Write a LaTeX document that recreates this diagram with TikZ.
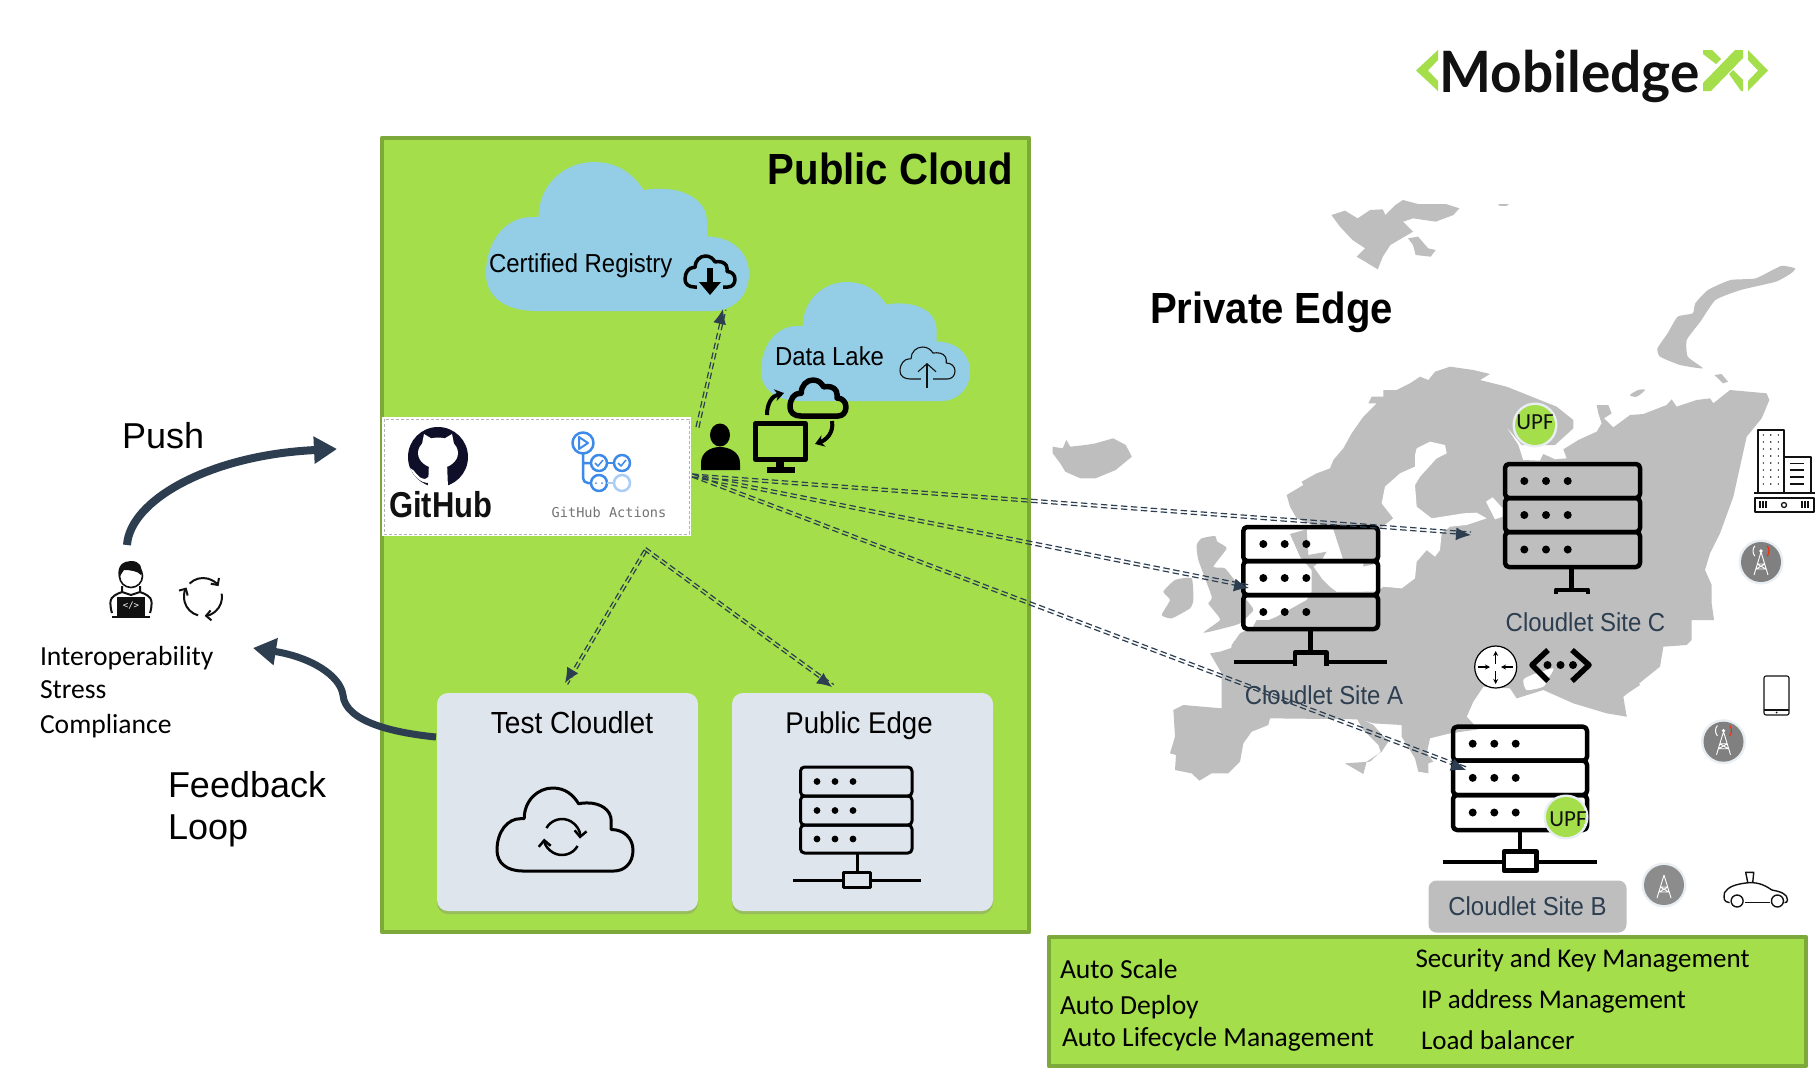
\documentclass[tikz,border=0pt]{standalone}
\usepackage{fontspec}
\setmainfont{Liberation Sans}
\newfontfamily\carl{Carlito}
\newfontfamily\logof[FakeStretch=.965]{Lato}
\newfontfamily\monof{DejaVu Sans Mono}
\newfontfamily\ghf[FakeStretch=.86]{Liberation Sans}
\newfontfamily\cf[FakeStretch=.92]{Liberation Sans}
\usetikzlibrary{arrows.meta,shadows,calc}
\definecolor{gr}{HTML}{A4DE4B}
\definecolor{grb}{HTML}{7DA83A}
\definecolor{navy}{HTML}{2C3E50}
\definecolor{lblue}{HTML}{94CEE6}
\definecolor{card}{HTML}{DEE5EC}
\definecolor{land}{HTML}{BEBEBE}
\definecolor{ink}{HTML}{111111}
\definecolor{gblue}{HTML}{3E8AE8}
\definecolor{gblue2}{HTML}{A9CDF5}
\definecolor{ring}{HTML}{E9EEF3}
\newcommand\fsz[1]{\fontsize{#1}{#1}\selectfont}
\newcommand\cloudP{(.19,1) .. controls (.07,1) and (0,.9) .. (0,.75) .. controls (0,.52) and (.08,.37) .. (.17,.37) -- (.2,.37) .. controls (.2,.15) and (.3,0) .. (.41,0) .. controls (.5,0) and (.56,.08) .. (.6,.19) .. controls (.62,.18) and (.64,.18) .. (.665,.18) .. controls (.76,.18) and (.84,.26) .. (.84,.4) -- (.84,.5) .. controls (.93,.5) and (1,.6) .. (1,.75) .. controls (1,.9) and (.94,1) .. (.86,1) -- cycle}
% x1 x2 y1 d1 d2 y2 dot1 dot2 dot3
\newcommand\rackicon[9]{%
 \draw[rounded corners=4pt] (#1,#3) rectangle (#2,#4);
 \draw[rounded corners=4pt] (#1,#4) rectangle (#2,#5);
 \draw[rounded corners=4pt] (#1,#5) rectangle (#2,#6);
 \foreach \dx in {#7,#8,#9}{
  \fill ($(\dx,#3)!.5!(\dx,#4)$) circle (\dotr);
  \fill ($(\dx,#4)!.5!(\dx,#5)$) circle (\dotr);
  \fill ($(\dx,#5)!.5!(\dx,#6)$) circle (\dotr);}}
\newcommand\dotr{4pt}
\newcommand\arcarrow[6][]{\draw[#1] ([shift={(#5:#4pt)}]#2,#3) arc (#5:#6:#4pt);}
\newcommand\towericon[4]{%
 \fill[ring] (#1,#2) circle (22.5pt);
 \fill[#3] (#1,#2) circle (20pt);
 \draw[white,line width=.9pt] (#1,#2-10) -- (#1-7,#2+13) (#1,#2-10) -- (#1+7,#2+13) (#1-4,#2+2) -- (#1+4,#2+2) (#1-5,#2+7) -- (#1+5,#2+7) (#1-4,#2+2) -- (#1+5,#2+7) (#1+4,#2+2) -- (#1-5,#2+7);
 \ifx#4r
 \fill[white] (#1,#2-11) circle (1.8pt);
 \draw[red!70!orange,line width=1pt] ([shift={(-40:8pt)}]#1,#2-11) arc (-40:40:8pt);
 \draw[white,line width=1pt] ([shift={(140:8pt)}]#1,#2-11) arc (140:220:8pt);
 \fi}
\tikzset{
 txt/.style={inner sep=0pt,outer sep=0pt},
 ddash/.style 2 args={draw=navy,line width=1.2pt,dash pattern=on 6.5pt off 3.5pt,-{Latex[length=15pt,width=13pt]},
   postaction={draw=navy,-,line width=1.2pt,dash pattern=on 6.5pt off 3.5pt,transform canvas={xshift=#1,yshift=#2}}},
 zE/.style={shift={(1130,370)},x=.33333pt,y=-.33333pt},
 zN/.style={shift={(1480,390)},x=.33333pt,y=-.33333pt},
 zS/.style={shift={(1140,630)},x=.33333pt,y=-.33333pt},
 zW/.style={shift={(1030,190)},x=.504pt,y=-.33333pt},
 thick arrow/.style={draw=navy,line width=8pt,-{Triangle[length=23pt,width=26pt]}},
 panel/.style={fill=gr,draw=grb,line width=4.5pt},
 cardbox/.style={fill=card,rounded corners=11pt,drop shadow={shadow xshift=0pt,shadow yshift=-3pt,opacity=.35}},
}
\begin{document}
\begin{tikzpicture}[x=1pt,y=-1pt,line join=round]
\useasboundingbox (0,0) rectangle (1820,1072);
\fill[white] (0,0) rectangle (1820,1072);
%---------- map
\begin{scope}[zW]
\fill[land] plot coordinates {(598,75) (625,62) (650,85) (675,60) (700,58) (705,75) (725,45) (740,30) (770,42) (825,42) (852,55) (840,75) (805,95) (760,85) (740,95) (760,125) (715,165) (700,200) (690,238) (665,215) (648,200) (665,175) (640,150) (615,110)} -- cycle;
\fill[land] plot coordinates {(750,145) (770,140) (790,175) (805,180) (795,200) (765,195) (760,165)} -- cycle;
\fill[land] plot coordinates {(930,42) (950,42) (945,48) (930,47)} -- cycle;
\fill[land] plot[smooth cycle,tension=.3] coordinates {(1490,228) (1440,265) (1390,270) (1345,300) (1320,340) (1315,370) (1285,380) (1265,430) (1245,475) (1250,500) (1290,525) (1335,535) (1305,500) (1303,450) (1330,395) (1360,330) (1410,300) (1480,275) (1510,250) (1518,235)};
\fill[land] plot coordinates {(1358,555) (1372,552) (1385,575) (1375,580)} -- cycle;
\fill[land] plot coordinates {(45,770) (65,775) (72,750) (80,770) (110,765) (130,760) (165,745) (190,765) (202,800) (170,840) (130,865) (100,865) (70,845) (60,820) (45,790)} -- cycle;
\end{scope}
\begin{scope}[zE]
\fill[land] plot coordinates {(470,375) (520,345) (515,335) (560,310) (600,295) (610,270) (640,235) (665,190) (700,140) (740,100) (715,100) (725,80) (760,80) (760,60) (800,60) (840,40) (870,20) (895,30) (915,5) (960,-10) (1030,0) (1080,12) (1050,30) (1130,50) (1180,70) (1280,110) (1330,150) (1330,175) (1275,225) (1175,225) (1125,165) (1165,225) (1180,272) (1200,800) (700,800) (700,570) (640,570) (610,478) (560,470) (500,445) (480,410)} -- cycle;
\fill[land] plot coordinates {(480,492) (530,478) (535,555) (590,545) (575,570) (550,590) (575,625) (600,650) (620,665) (740,665) (900,650) (900,860) (300,860) (305,825) (330,790) (370,770) (440,740) (530,690) (545,665) (545,600) (510,560)} -- cycle;
\fill[land] plot[smooth cycle,tension=.3] coordinates {(200,525) (215,505) (255,498) (262,515) (290,535) (250,590) (285,595) (320,640) (350,690) (370,720) (330,760) (280,775) (220,788) (270,750) (250,720) (235,700) (245,680) (205,570)};
\fill[land] plot[smooth cycle,tension=.3] coordinates {(100,665) (135,630) (185,625) (190,690) (180,715) (125,745) (95,735) (120,690)};
\end{scope}
\begin{scope}[zN]
\fill[land] plot coordinates {(350,45) (385,45) (395,70) (372,85) (400,112) (450,75) (490,72) (560,45) (575,28) (590,50) (650,30) (690,25) (700,40) (750,0) (860,10) (868,30) (845,85) (800,140) (780,230) (760,320) (720,430) (690,490) (675,540) (695,585) (695,640) (702,690) (635,690) (635,750) (620,765) (550,770) (540,830) (490,870) (430,920) (440,980) (370,940) (300,920) (200,900) (100,600) (0,600) (0,230) (130,210) (180,212) (190,192) (225,208) (260,205) (250,178) (295,150) (350,125) (365,100) (355,70)} -- cycle;
\fill[land] plot[smooth cycle,tension=.5] coordinates {(450,15) (475,0) (495,0) (470,20)};
\end{scope}
\begin{scope}[zS]
\fill[land] plot coordinates {(210,70) (240,65) (300,45) (280,35) (320,25) (350,-30) (1400,-30) (1500,165) (1440,205) (1460,260) (1400,250) (1300,220) (1210,180) (1130,205) (1110,175) (1030,170) (1000,215) (980,260) (1015,298) (930,310) (870,325) (860,370) (880,395) (865,400) (865,430) (835,425) (825,385) (785,320) (785,285) (700,280) (660,268) (390,265) (385,285) (335,305) (310,340) (300,395) (265,430) (215,430) (178,452) (155,430) (105,420) (108,375) (90,370) (105,320) (100,240) (130,225) (245,235) (245,130)} -- cycle;
\fill[land] plot coordinates {(650,265) (670,300) (715,345) (722,365) (690,395) (615,400) (670,432) (680,395) (725,365) (745,335) (700,285) (660,265)} -- cycle;
\fill[white] plot[smooth cycle,tension=.4] coordinates {(1150,150) (1175,135) (1240,115) (1225,145) (1210,170) (1160,180)};
\end{scope}
\begin{scope}[zE]
\fill[white] plot coordinates {(860,235) (900,215) (945,225) (950,250) (920,265) (870,320) (855,345) (860,410) (905,445) (1000,430) (1040,428) (1070,445) (1010,465) (960,470) (935,490) (930,540) (915,560) (890,540) (860,575) (855,625) (815,655) (760,650) (740,665) (620,665) (600,650) (575,625) (590,590) (640,585) (650,610) (700,590) (745,580) (745,480) (790,445) (755,400) (765,350) (810,310) (855,290) (855,255)} -- cycle;
\fill[white] plot coordinates {(1068,395) (1088,382) (1118,415) (1118,440) (1095,448)} -- cycle;
\end{scope}
%---------- public cloud panel
\path[panel] (382,138) rectangle (1029,932);
\node[txt,anchor=east,font=\fsz{43.6}\cf\bfseries] (pubcloud) at (1013,169) {Public Cloud};
%---------- clouds
\begin{scope}[shift={(486,162)},x=263pt,y=-149pt]
\fill[lblue] \cloudP;
\end{scope}
\begin{scope}[shift={(761,282)},x=209pt,y=-119pt]
\fill[lblue] \cloudP;
\end{scope}
\node[txt,anchor=west,font=\fsz{26}\cf] (registry) at (489,265.5) {Certified Registry};
\node[txt,anchor=west,font=\fsz{26}\cf] (lake) at (775,356) {Data Lake};
% registry icon
\begin{scope}[shift={(685,256)},x=50pt,y=-31pt]
\draw[black,line width=3.5pt] \cloudP;
\end{scope}
\fill[lblue] (697,283) rectangle (723,290);
\fill[black] (707,268) rectangle (713,283);
\fill[black] (699,282) -- (721,282) -- (710,295) -- cycle;
% lake icon
\begin{scope}[shift={(900,347)},x=55pt,y=-32pt]
\draw[ink,line width=1.1pt] \cloudP;
\end{scope}
\fill[lblue] (921,376) rectangle (933,381);
\draw[ink,line width=1.1pt,-{Straight Barb[length=8pt,width=18pt]}] (927,388) -- (927,363);
% person
\fill[black] (720,435) ellipse (10pt and 11.5pt);
\fill[black] (701,470) -- (701,463) .. controls (701,452) and (711,447) .. (720,447) .. controls (729,447) and (740,452) .. (740,463) -- (740,470) -- cycle;
% monitor
\draw[black,line width=5pt] (755.5,423.5) rectangle (805.5,459.5);
\fill[black] (776,461) rectangle (784,469);
\fill[black] (767,467) rectangle (795,473);
% small cloud
\begin{scope}[shift={(790,380)},x=56pt,y=-36pt]
\draw[black,line width=5.5pt] \cloudP;
\end{scope}
\draw[black,line width=4pt,-{Stealth[length=9pt,width=12pt]}] (767,415) .. controls (767,403) and (772,396) .. (784,393);
\draw[black,line width=4pt,-{Stealth[length=9pt,width=12pt]}] (832,421) .. controls (834,433) and (826,440) .. (815,444);
%---------- github box
\fill[white] (382,417) rectangle (691,536);
\draw[gray!60,line width=1pt,dash pattern=on 3pt off 2pt] (384,419) rectangle (689,534);
\fill[ink!90!blue] (438,457) circle (30pt);
\fill[white] (438,453) ellipse (20pt and 15.5pt);
\fill[white] (421,449) -- (424,434) -- (434,440) -- cycle;
\fill[white] (455,449) -- (452,434) -- (442,440) -- cycle;
\fill[white] (429,462) -- (447,462) -- (448,488) -- (428,488) -- cycle;
\fill[white] (410,468) .. controls (416,470) and (416,478) .. (425,479) -- (430,476) -- (429,483) .. controls (420,483) and (414,476) .. (410,468) -- cycle;
\node[txt,anchor=base west,font=\fsz{36}\ghf\bfseries,text=ink] (github) at (389,517) {GitHub};
% actions icon
\draw[gblue,line width=2.5pt] (583,443) circle (10.5pt) (599,463) circle (8pt) (622,463) circle (8pt);
\draw[gblue,line width=2.5pt] (599,483) circle (8pt);
\draw[gblue2,line width=2.5pt] (622,483) circle (8pt);
\draw[gblue,line width=2pt] (579,437) -- (588,443) -- (579,449) -- cycle;
\draw[gblue,line width=2.5pt,rounded corners=5pt] (583,453.5) -- (583,483) -- (591,483) (583,463) -- (591,463);
\draw[gblue,line width=2.5pt] (607,463) -- (614,463);
\draw[gblue2,line width=2.5pt] (607,483) -- (614,483);
\draw[gblue,line width=1.5pt] (595,463) -- (598,466) -- (603,460) (618,463) -- (621,466) -- (626,460);
\fill[gblue] (596,483) circle (1pt) (602,483) circle (1pt);
\node[txt,font=\fsz{13.6}\monof,text=black!55] (actions) at (609,512) {GitHub Actions};
%---------- cards
\path[cardbox] (437,693) rectangle (698,911);
\path[cardbox] (732,693) rectangle (993,911);
\node[txt,font=\fsz{30.5}\cf] (testc) at (572,723) {Test Cloudlet};
\node[txt,font=\fsz{30}\cf] (pubedge) at (859,725.5) {Public Edge};
\begin{scope}[shift={(497,788)},x=136pt,y=-83pt]
\draw[black,line width=3pt] \cloudP;
\end{scope}
\arcarrow[black,line width=2.5pt,-{Straight Barb[length=6pt,width=12pt]}]{562}{837}{18}{150}{-5}
\arcarrow[black,line width=2.5pt,-{Straight Barb[length=6pt,width=12pt]}]{562}{837}{18}{-30}{-175}
\begin{scope}[black,line width=3pt]
\renewcommand\dotr{3.4pt}
\rackicon{800.5}{912}{767}{796}{825}{853}{817}{835}{853}
\draw (857,853) -- (857,872);
\draw[fill=card] (843,872) rectangle (870,887);
\draw (793,880) -- (843,880) (870,880) -- (921,880);
\end{scope}
%---------- site A
\begin{scope}[black,line width=4.5pt]
\rackicon{1243.3}{1378}{527}{561}{595}{629}{1263.3}{1284.7}{1306.3}
\draw (1310.3,629) -- (1310.3,652.7);
\draw (1295,666) -- (1295,652.7) -- (1326.7,652.7) -- (1326.7,666);
\draw[line width=4pt] (1234,661.7) -- (1295,661.7) (1326.7,661.7) -- (1387,661.7);
\end{scope}
%---------- site C
\begin{scope}[black,line width=4.5pt]
\rackicon{1505}{1640}{464}{498}{532}{567}{1524.3}{1546}{1567.7}
\draw (1571.7,567) -- (1571.7,589);
\draw[line width=4pt] (1556,594) -- (1556,589.5) -- (1588,589.5) -- (1588,594);
\end{scope}
%---------- site B
\begin{scope}[black,line width=4.5pt]
\rackicon{1453}{1587}{726.7}{760.7}{795}{830}{1472.7}{1494.3}{1515.7}
\draw (1520,830) -- (1520,851.7);
\draw[fill=white] (1504,851.7) rectangle (1536.7,870.7);
\draw[line width=4pt] (1442.7,861.7) -- (1504,861.7) (1536.7,861.7) -- (1597.3,861.7);
\end{scope}
\node[txt,font=\fsz{26}\cf,text=navy] (sitec) at (1585.5,622) {Cloudlet Site C};
\node[txt,font=\fsz{26}\cf,text=navy] (sitea) at (1324,695) {Cloudlet Site A};
\node[fill=land,rounded corners=8pt,minimum width=198pt,minimum height=52pt,inner sep=0pt,font=\fsz{26}\cf,text=navy] (siteb) at (1527.5,906.5) {\raisebox{-2pt}{Cloudlet Site B}};
%---------- UPF
\fill[ring] (1535,425) circle (22.5pt);
\fill[gr] (1535,425) circle (20pt);
\node[txt,font=\fsz{23}\carl,text=ink] (upfc) at (1535,422) {UPF};
\fill[ring] (1566,817) circle (22.5pt);
\begin{scope}
\clip (1566,817) circle (20pt);
\fill[gr] (1566,817) circle (20pt);
\node[txt,font=\fsz{23}\carl,text=ink] (upfb) at (1568,819) {UPF};
\end{scope}
%---------- router + chevrons
\draw[black,fill=white,line width=1.2pt] (1495.7,667) circle (21pt);
\begin{scope}[black,line width=1.4pt,-{Stealth[length=5pt,width=5pt]}]
\draw (1495.7,664) -- (1495.7,651);
\draw (1495.7,671) -- (1495.7,684);
\draw (1478,667) -- (1490,667);
\draw (1513,667) -- (1501,667);
\end{scope}
\draw[black,line width=5.5pt] (1548,650) -- (1532,665) -- (1548,681);
\draw[black,line width=5.5pt] (1572,650) -- (1589,665) -- (1572,681);
\fill[black] (1547.5,665) circle (4pt) (1560.5,665) circle (4pt) (1573,665) circle (4pt);
%---------- building
\begin{scope}[draw=ink,line width=1.3pt]
\draw (1758,492) -- (1758,430) -- (1784,430) -- (1784,492);
\draw (1784,457) -- (1811,457) -- (1811,492);
\draw[line width=2pt] (1754,492.7) -- (1815,492.7);
\draw (1755,498) rectangle (1814,512);
\foreach \by in {435,442,...,484}{\foreach \bx in {1763.3,1770.7,1778.3}{\fill[ink] (\bx,\by) circle (.8pt);}}
\foreach \by in {463.5,470,477,484}{\draw (1790,\by) -- (1804,\by);}
\foreach \bx in {1760,1763,1766,1802,1805,1808}{\draw (\bx,501) -- (\bx,508);}
\draw (1784,505) circle (2.5pt);
\end{scope}
%---------- towers
\towericon{1761}{562}{black!50}{r}
\towericon{1723.5}{741.7}{black!50}{r}
\towericon{1664}{885}{black!45}{n}
%---------- phone
\draw[ink,line width=1.1pt,rounded corners=2pt] (1764,676) rectangle (1789,715);
\draw[ink,line width=1.1pt] (1764,710) -- (1789,710);
\fill[ink] (1776.5,712.5) circle (1pt);
%---------- car
\begin{scope}[shift={(1030,620)},x=.504pt,y=-.33333pt]
\draw[ink,line width=1.4pt] (1388,848) .. controls (1376,846) and (1376,835) .. (1378,818) .. controls (1385,800) and (1400,793) .. (1420,789) .. controls (1440,785) and (1455,792) .. (1472,810) .. controls (1490,815) and (1503,822) .. (1503,840) .. controls (1503,846) and (1500,848) .. (1497,848);
\draw[ink,line width=1.4pt] (1418,848) -- (1468,848);
\draw[ink,line width=1.4pt] (1403,843) circle (6pt) (1483,843) circle (6pt);
\draw[ink,line width=1.4pt] (1424,787) -- (1420,757) -- (1436,757) -- (1434,787);
\end{scope}
%---------- bottom panel
\path[panel] (1049,937) rectangle (1806,1066);
\begin{scope}[font=\fsz{27.6}\carl]
\node[txt,anchor=west] (f1) at (1060,969) {Auto Scale};
\node[txt,anchor=west] (f2) at (1060,1007) {Auto Deploy};
\node[txt,anchor=west] (f3) at (1062,1039) {Auto Lifecycle Management};
\end{scope}
\begin{scope}[font=\fsz{27}\carl]
\node[txt,anchor=west] (f4) at (1415.5,960) {Security and Key Management};
\node[txt,anchor=west] (f5) at (1421,1001) {IP address Management};
\node[txt,anchor=west] (f6) at (1421,1040) {Load balancer};
\end{scope}
%---------- titles
\node[txt,anchor=west,font=\fsz{43.6}\cf\bfseries] (privedge) at (1150,312) {Private Edge};
\node[txt,anchor=base west,font=\fsz{36}] (push) at (122,448) {Push};
\node[txt,anchor=base west,font=\fsz{36}] (fb1) at (168,797) {Feedback};
\node[txt,anchor=base west,font=\fsz{36}] (fb2) at (168,839) {Loop};
\begin{scope}[font=\fsz{27.6}\carl]
\node[txt,anchor=west] (t1) at (40,658) {Interoperability};
\node[txt,anchor=west] (t2) at (40,690) {Stress};
\node[txt,anchor=west] (t3) at (40,726) {Compliance};
\end{scope}
%---------- developer icon
\begin{scope}
\draw[ink,line width=2pt,rounded corners=5pt] (112,613) -- (110,606) .. controls (111,597) and (116,594) .. (122,592) (140,592) .. controls (146,594) and (151,597) .. (152,606) -- (150,613);
\draw[ink,line width=2pt] (122,586) -- (122,592) -- (131,595) -- (140,592) -- (140,586);
\draw[ink,line width=1.6pt] (131,576) circle (11.5pt);
\fill[ink] (119,578) .. controls (116,565) and (124,561) .. (131,561) .. controls (140,561) and (143,567) .. (141,575) .. controls (138,571) and (130,570) .. (124,570) .. controls (122,572) and (121,575) .. (119,578) -- cycle;
\fill[ink] (117,597) rectangle (145,616);
\draw[ink,line width=1.6pt] (112,617) -- (150,617);
\node[txt,font=\fsz{9}\monof,text=white] (dev) at (131,606) {</>};
\end{scope}
\arcarrow[ink,line width=2pt,-{Straight Barb[length=5pt,width=10pt]}]{203}{597}{19}{135}{35}
\arcarrow[ink,line width=2pt,-{Straight Barb[length=5pt,width=10pt]}]{203}{597}{19}{10}{-85}
\arcarrow[ink,line width=2pt,-{Straight Barb[length=5pt,width=10pt]}]{203}{597}{19}{255}{150}
%---------- connectors
\coordinate (hub) at (692,477);
\coordinate (hubUp) at (696,427);
\coordinate (hubDown) at (644,550);
\coordinate (tipReg) at (723,309);
\coordinate (tipC) at (1471,535);
\coordinate (tipA) at (1249,588);
\coordinate (tipB) at (1466,770);
\coordinate (tipTest) at (565,683);
\coordinate (tipEdge) at (832,687);
\draw[ddash={2.9pt}{-.7pt}] (hubUp) -- (tipReg);
\draw[ddash={0pt}{3pt}] (hub) -- (tipC);
\draw[ddash={.6pt}{3pt}] (hub) -- (tipA);
\draw[ddash={1.1pt}{2.8pt}] (hub) -- (tipB);
\draw[ddash={2.6pt}{-1.5pt}] (hubDown) -- (tipTest);
\draw[ddash={1.8pt}{2.4pt}] (hubDown) -- (tipEdge);
% push & feedback
\coordinate (pushStart) at (127,545);
\coordinate (pushEnd) at (337,449);
\draw[thick arrow] (pushStart) .. controls (130,500) and (210,455) .. (pushEnd);
\coordinate (fbStart) at (436,737);
\coordinate (fbEnd) at (253,648);
\draw[thick arrow,line width=7pt] (fbStart) .. controls (395,733) and (345,722) .. (343,695) .. controls (340,675) and (310,657) .. (fbEnd);
%---------- logo
\begin{scope}[fill=gr]
\fill (1438,50) -- (1416,70.5) -- (1438,91) -- (1438,81) -- (1428,70.5) -- (1438,60) -- cycle;
\fill (1748,50) -- (1768,70.5) -- (1748,91) -- (1748,81) -- (1758,70.5) -- (1748,60) -- cycle;
\fill (1743,50) -- (1735,50) -- (1703,83) -- (1703,91) -- (1711,91) -- (1743,58) -- cycle;
\fill (1703,50) -- (1712,50) -- (1721,59) -- (1716,64) -- (1703,54) -- cycle;
\fill (1729,74) -- (1733,70) -- (1743,80) -- (1743,91) -- (1741,91) -- cycle;
\end{scope}
\node[txt,anchor=base west,font=\fsz{57}\logof\bfseries,text=ink] (logo) at (1439.5,92) {Mobiledge};
\end{tikzpicture}
\end{document}
